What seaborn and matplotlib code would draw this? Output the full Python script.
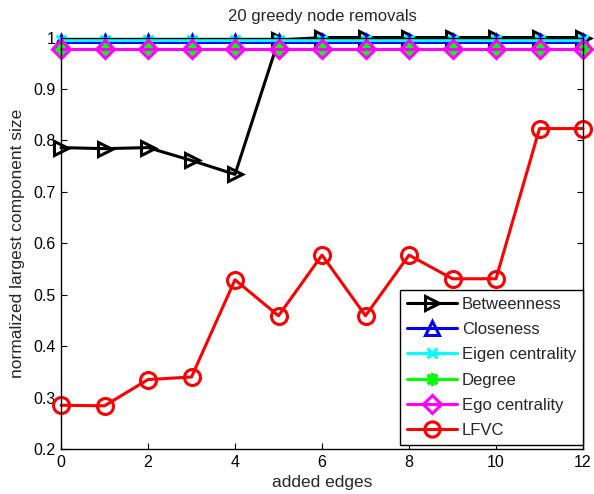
import matplotlib
matplotlib.use("Agg")
import matplotlib.pyplot as plt
import seaborn as sns
import numpy as np
import pandas as pd

x_edges = list(range(13))
betweenness = [0.786, 0.784, 0.786, 0.761, 0.734, 0.995, 1.0, 1.0, 1.0, 1.0, 1.0, 1.0, 1.0]
closeness = [0.991] * 13
eigen = [0.995] * 13
degree = [0.978] * 13
ego = [0.978] * 13
lfvc = [0.285, 0.284, 0.335, 0.340, 0.529, 0.459, 0.577, 0.459, 0.577, 0.531, 0.531, 0.823, 0.823]

names = ["Betweenness", "Closeness", "Eigen centrality", "Degree", "Ego centrality", "LFVC"]
colors = ["#000000", "#0000FF", "#00FFFF", "#00FF00", "#FF00FF", "#FF0000"]
markers = [">", "^", "x", (8, 2, 0), "D", "o"]
msizes = [10.5, 10, 7, 10, 9.5, 11.5]
series = [betweenness, closeness, eigen, degree, ego, lfvc]

sns.set_style("white")
plt.rcParams["font.family"] = ["Liberation Sans", "DejaVu Sans"]

fig = plt.figure(figsize=(5.94, 4.94), dpi=100)
ax = fig.add_axes([0.1027, 0.0911, 0.8788, 0.8329])

for name, col, mk, ms, vals in zip(names, colors, markers, msizes, series):
    df = pd.DataFrame({"x": x_edges, "y": vals})
    sns.lineplot(data=df, x="x", y="y", ax=ax, color=col, linewidth=2.2,
                 marker=mk, markersize=ms, markerfacecolor="none",
                 markeredgecolor=col, markeredgewidth=2.2, label=name,
                 clip_on=False)

ax.set_xlim(0, 12)
ax.set_ylim(0.2, 1.0)
ax.set_xticks([0, 2, 4, 6, 8, 10, 12])
ax.set_yticks([0.2, 0.3, 0.4, 0.5, 0.6, 0.7, 0.8, 0.9, 1.0])
ax.set_yticklabels(["0.2", "0.3", "0.4", "0.5", "0.6", "0.7", "0.8", "0.9", "1"])
ax.tick_params(direction="in", length=4, width=0.8, labelsize=11.5, top=True, right=True,
               bottom=True, left=True, pad=4, colors="black")
for sp in ax.spines.values():
    sp.set_color("black")
    sp.set_linewidth(1.0)
    sp.set_visible(True)

ax.set_xlabel("added edges", fontsize=12.5, labelpad=4)
ax.set_ylabel("normalized largest component size", fontsize=12.5, labelpad=6)
ax.set_title("20 greedy node removals", fontsize=12, pad=12)

leg = ax.legend(loc="lower right", fontsize=12, frameon=True, fancybox=False,
                edgecolor="black", framealpha=1, borderaxespad=0.0,
                handlelength=3.0, labelspacing=0.62, borderpad=0.4,
                handletextpad=0.3, markerscale=0.95,
                bbox_to_anchor=(1.0, 0.01))
leg.get_frame().set_linewidth(1.0)

fig.savefig("out.png", dpi=100)
